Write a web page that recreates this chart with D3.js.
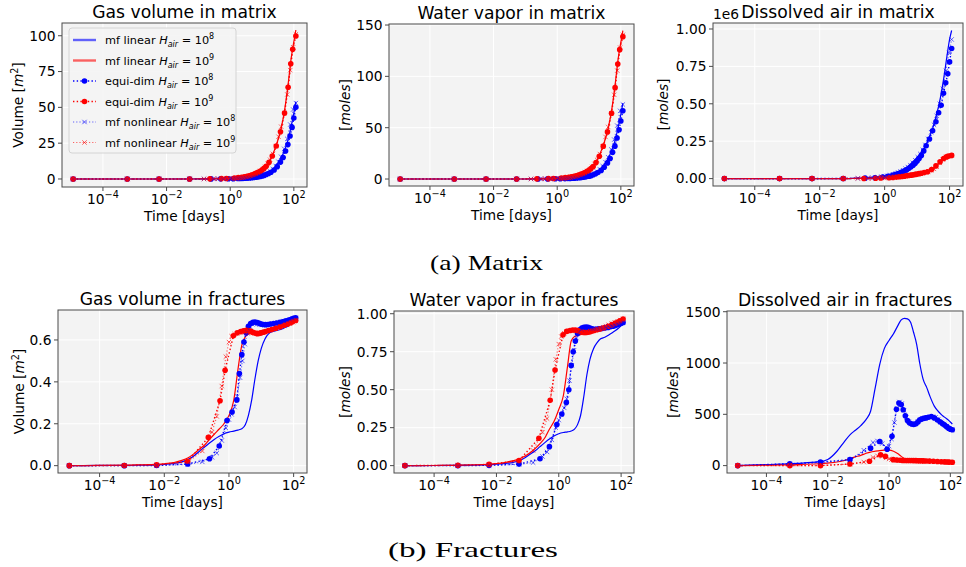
<!DOCTYPE html>
<html><head><meta charset="utf-8">
<script src="https://cdn.jsdelivr.net/npm/d3@7"></script>
<style>
body{margin:0;background:#fff}
svg{display:block}
text{font-family:"DejaVu Sans",sans-serif;fill:#000}
</style>
</head><body>
<svg id="c" width="966" height="567"></svg>
<script>
// ---------- time axes (days) ----------
const tLin = [1.157e-5,1e-4,1e-3,5e-3,0.01,0.02,0.035,0.055,0.08,0.12,0.18,0.25,0.35,0.5,0.7,1.0,1.4,1.9,2.5,3.2,4.0,5.0,6.3,8.0,10,13,17,22,30,40,52,66,82,100,115.7];
const tEqB = [1.157e-5,5.8e-4,5.8e-3,0.053,0.25,0.5,0.87,1.25,1.75,2.1,2.5,2.9,3.4,4.0,4.7,5.5,6.4,7.5,8.7,10,11.5,13.5,16,19,24,30,38,46,55,65,76,88,100,115.7];
const tEqR = [1.157e-5,5.8e-4,5.8e-3,0.053,0.23,0.53,0.76,1.37,1.8,2.3,2.8,3.4,4.0,4.7,5.5,6.4,7.5,8.7,10,11.5,13.5,16.6,21,28,38,51,66,80,92,115.7];
const tNl  = [1.157e-5,5.8e-4,5.8e-3,0.053,0.15,0.3,0.42,0.6,0.8,1.0,1.2,1.5,1.8,2.2,2.6,3.1,3.7,4.4,5.2,6.2,7.4,8.8,10.5,12.5,15,18,22,27,33,40,50,62,77,95,115.7];

// ---------- matrix: gas volume [m^2] ----------
const mGasLinB = [0,0,0,0,0,0,0,0,0.01,0.02,0.03,0.04,0.06,0.09,0.13,0.19,0.27,0.37,0.5,0.65,0.85,1.1,1.45,1.9,2.5,3.5,4.9,6.8,10.2,14.8,20.5,27.5,36.5,46,54];
const mGasLinR = [0,0,0,0,0,0,0,0,0,0.05,0.08,0.11,0.16,0.24,0.34,0.5,0.7,1.0,1.3,1.75,2.3,2.95,3.85,5.1,6.5,8.8,12.3,17.5,25.5,35.5,49,66,84,96,104];
const mGasEqB  = [0,0,0,0,0.04,0.08,0.14,0.21,0.3,0.37,0.44,0.52,0.62,0.74,0.88,1.05,1.25,1.5,1.8,2.1,2.5,3.1,3.8,4.7,6.3,8.6,11.8,15,19.5,24,30,36,42.5,50];
const mGasEqR  = [0,0,0,0.02,0.1,0.26,0.38,0.7,0.95,1.2,1.5,1.9,2.3,2.8,3.3,3.9,4.6,5.4,6.2,7.4,8.8,11.6,16,23,33,46,64,80.5,90.5,99.8];
const mGasNlB  = [0,0,0,0.01,0.03,0.05,0.07,0.1,0.14,0.18,0.22,0.28,0.34,0.42,0.5,0.6,0.74,0.9,1.08,1.33,1.65,2.05,2.55,3.2,4.1,5.2,6.9,9.1,12,15.5,21,28,38,48.5,53];
const mGasNlR  = [0,0,0,0.02,0.06,0.13,0.19,0.28,0.37,0.46,0.56,0.72,0.88,1.1,1.32,1.6,1.95,2.4,2.95,3.65,4.55,5.6,6.9,8.4,10.6,13.4,17.5,23,29.5,36.5,46,59,76,92,101];

// ---------- matrix: water vapor [moles] ----------
const mVapLinB = [0,0,0,0,0,0,0,0,0.01,0.03,0.04,0.05,0.08,0.12,0.18,0.26,0.37,0.51,0.69,0.89,1.16,1.5,2.0,2.6,3.4,4.8,6.7,9.3,14,20.3,28,37.7,50,63,74];
const mVapLinR = [0,0,0,0,0,0,0,0,0,0.07,0.11,0.15,0.22,0.33,0.47,0.7,0.97,1.4,1.8,2.4,3.2,4.1,5.4,7.1,9.0,12.2,17.1,24.3,35.4,49.3,68,91.7,116.8,133.4,144.5];
const mVapEqB  = [0,0,0,0,0.05,0.11,0.19,0.28,0.4,0.49,0.59,0.69,0.82,0.98,1.17,1.4,1.66,2.0,2.4,2.8,3.3,4.1,5.1,6.3,8.4,11.4,15.7,20,26,32,40,48,56.5,66.5];
const mVapEqR  = [0,0,0,0.03,0.14,0.36,0.53,0.97,1.32,1.67,2.1,2.64,3.2,3.9,4.6,5.4,6.4,7.5,8.6,10.3,12.2,16.1,22.2,32,45.9,64,89,112,126,138.7];
const mVapNlB  = [0,0,0,0.01,0.04,0.07,0.1,0.14,0.19,0.25,0.3,0.38,0.47,0.58,0.69,0.82,1.01,1.23,1.48,1.82,2.26,2.81,3.49,4.38,5.62,7.12,9.45,12.5,16.4,21.2,28.8,38.4,52,66.4,72.6];
const mVapNlR  = [0,0,0,0.03,0.08,0.18,0.26,0.39,0.51,0.64,0.78,1.0,1.22,1.53,1.83,2.22,2.71,3.34,4.1,5.07,6.32,7.78,9.6,11.7,14.7,18.6,24.3,32,41,50.7,64,82,105.6,128,140.4];

// ---------- matrix: dissolved air [moles] ----------
const mAirLinB = [0,0,0,0,0,0,0,0,0,2000,3000,4000,6000,8500,12000,17000,24000,32000,42000,53000,65000,80000,98000,120000,142000,172000,210000,260000,335000,430000,540000,670000,810000,930000,990000];
const mAirLinR = [0,0,0,0,0,0,0,0,0,1000,1000,2000,2000,3000,4000,5000,7000,9000,11000,14000,17000,20000,24000,28000,31000,36000,42000,50000,63000,90000,116000,135000,146000,152000,156000];
const mAirEqB  = [0,0,0,1000,3000,6000,11000,16000,22000,27000,32000,37000,43000,50000,58000,67000,77000,89000,102000,118000,135000,155000,185000,220000,265000,320000,380000,440000,490000,570000,640000,700000,780000,870000];
const mAirEqR  = [0,0,0,0,1000,2000,4000,6000,8000,10000,12000,14000,16000,19000,21000,23000,25000,28000,30000,33000,36000,40000,46000,60000,85000,112000,134000,145000,150000,155000];
const mAirNlB  = [0,0,0,1000,2000,4000,6000,9000,12000,15000,19000,24000,29000,35000,41000,48000,56000,66000,77000,90000,105000,123000,143000,165000,192000,225000,265000,310000,360000,420000,500000,600000,720000,840000,930000];
const mAirNlR  = [0,0,0,0,1000,1000,2000,3000,4000,5000,6000,7000,8000,10000,11000,13000,15000,18000,20000,23000,25000,28000,31000,34000,38000,43000,47000,55000,65000,80000,105000,128000,143000,151000,156000];

// ---------- fractures: gas volume [m^2] ----------
const fGasLinB = [0,0.001,0.002,0.004,0.006,0.011,0.018,0.03,0.045,0.068,0.09,0.108,0.125,0.14,0.152,0.16,0.165,0.17,0.176,0.195,0.24,0.31,0.41,0.5,0.56,0.605,0.63,0.64,0.645,0.65,0.658,0.666,0.675,0.683,0.69];
const fGasLinR = [0,0.001,0.003,0.006,0.009,0.015,0.025,0.038,0.055,0.078,0.1,0.125,0.15,0.175,0.2,0.24,0.31,0.46,0.575,0.615,0.628,0.634,0.638,0.641,0.644,0.647,0.651,0.655,0.659,0.664,0.668,0.673,0.678,0.684,0.69];
const fGasEqB  = [0,0,0.001,0.008,0.033,0.094,0.215,0.256,0.314,0.44,0.53,0.59,0.635,0.665,0.678,0.684,0.686,0.683,0.679,0.676,0.674,0.673,0.674,0.676,0.678,0.681,0.684,0.687,0.69,0.693,0.696,0.7,0.703,0.706];
const fGasEqR  = [0,0.001,0.004,0.02,0.135,0.31,0.455,0.62,0.634,0.64,0.644,0.646,0.645,0.642,0.637,0.633,0.63,0.631,0.634,0.637,0.64,0.645,0.65,0.656,0.663,0.67,0.676,0.682,0.687,0.693];
const fGasNlB  = [0,0,0.001,0.006,0.018,0.04,0.06,0.12,0.18,0.22,0.245,0.28,0.33,0.42,0.5,0.58,0.635,0.665,0.676,0.678,0.676,0.674,0.672,0.672,0.673,0.675,0.677,0.68,0.683,0.686,0.69,0.694,0.698,0.702,0.705];
const fGasNlR  = [0,0.001,0.004,0.018,0.07,0.16,0.235,0.38,0.52,0.59,0.618,0.628,0.632,0.636,0.638,0.638,0.636,0.634,0.632,0.631,0.632,0.634,0.636,0.639,0.642,0.646,0.65,0.654,0.658,0.662,0.667,0.672,0.678,0.685,0.691];

// ---------- fractures: water vapor [moles] ----------
const fVapLinB = [0,0.001,0.003,0.006,0.009,0.015,0.022,0.033,0.05,0.075,0.1,0.125,0.15,0.175,0.195,0.21,0.218,0.222,0.228,0.24,0.27,0.33,0.45,0.6,0.7,0.77,0.81,0.835,0.845,0.86,0.875,0.89,0.905,0.92,0.93];
const fVapLinR = [0,0.001,0.003,0.008,0.013,0.022,0.033,0.045,0.062,0.085,0.115,0.145,0.18,0.24,0.29,0.37,0.46,0.65,0.82,0.85,0.856,0.862,0.867,0.872,0.877,0.882,0.888,0.894,0.9,0.908,0.917,0.927,0.937,0.948,0.96];
const fVapEqB  = [0,0,0.002,0.01,0.045,0.125,0.27,0.34,0.415,0.5,0.66,0.75,0.82,0.87,0.895,0.905,0.91,0.912,0.91,0.905,0.9,0.898,0.898,0.9,0.903,0.906,0.91,0.914,0.918,0.922,0.927,0.932,0.937,0.942];
const fVapEqR  = [0,0.002,0.008,0.033,0.18,0.43,0.63,0.862,0.884,0.89,0.893,0.893,0.89,0.885,0.88,0.877,0.876,0.878,0.882,0.886,0.89,0.895,0.9,0.908,0.918,0.928,0.938,0.946,0.953,0.965];
const fVapNlB  = [0,0,0.002,0.008,0.02,0.06,0.09,0.17,0.25,0.3,0.335,0.38,0.44,0.56,0.66,0.76,0.84,0.88,0.897,0.905,0.907,0.905,0.902,0.9,0.9,0.902,0.905,0.908,0.912,0.916,0.921,0.927,0.933,0.939,0.944];
const fVapNlR  = [0,0.002,0.008,0.03,0.1,0.22,0.31,0.5,0.7,0.8,0.85,0.872,0.882,0.888,0.89,0.889,0.886,0.882,0.878,0.876,0.877,0.88,0.884,0.888,0.893,0.898,0.904,0.911,0.919,0.927,0.936,0.944,0.951,0.958,0.966];

// ---------- fractures: dissolved air [moles] ----------
const fAirLinB = [0,10,22,38,60,140,235,305,345,390,450,530,750,990,1140,1220,1285,1360,1420,1435,1430,1400,1300,1180,1000,840,760,670,580,530,495,470,450,425,405];
const fAirLinR = [0,5,10,18,25,35,50,70,85,100,120,132,140,147,150,150,140,118,90,70,58,52,48,45,43,42,40,39,37,36,35,34,33,32,31];
const fAirEqB  = [0,18,35,58,170,235,160,285,550,610,595,545,485,440,415,405,400,408,425,445,455,460,465,472,478,465,445,428,410,395,380,365,355,350];
const fAirEqR  = [0,0,0,16,42,105,90,58,54,52,51,50,50,50,50,49,49,48,48,47,46,45,44,42,40,38,36,35,34,33];
const fAirNlB  = [0,15,30,55,150,225,240,215,180,190,260,420,560,620,605,540,470,430,410,405,412,430,448,458,463,468,474,478,470,450,425,405,385,365,350];
const fAirNlR  = [0,0,0,14,35,80,95,90,75,65,58,54,52,51,50,50,50,49,49,48,48,47,46,45,44,43,42,41,40,38,37,36,35,34,33];

// ---------- labels ----------
const titles = ["Gas volume in matrix","Water vapor in matrix","Dissolved air in matrix",
                "Gas volume in fractures","Water vapor in fractures","Dissolved air in fractures"];
const xTickVals = [1e-4,1e-2,1,1e2];
const xTickExp  = ["\u22124","\u22122","0","2"];
const legendNames = ["mf linear","mf linear","equi-dim","equi-dim","mf nonlinear","mf nonlinear"];
const legendExp = ["8","9","8","9","8","9"];
const captions = ["(a) Matrix","(b) Fractures"];

// ---------- drawing ----------
const svg = d3.select("#c");
const BLUE = "#0000ff", RED = "#ff0000";
const FS_TICK = 13.8, FS_TITLE = 17.2, FS_LAB = 13.7;
const xDomain = [1.157e-5/Math.pow(10,0.35), 115.7*Math.pow(10,0.35)];

const panels = [
  {box:[62,23,307,187], yDom:[-5.6,108.9], yTicks:[0,25,50,75,100], yFmt:d3.format("d"), yLab:"vol", yLabX:18,
   s:[mGasLinB,mGasLinR,mGasEqB,mGasEqR,mGasNlB,mGasNlR], legend:true},
  {box:[389,24,634,186], yDom:[-6.8,151], yTicks:[0,50,100,150], yFmt:d3.format("d"), yLab:"mol", yLabX:345,
   s:[mVapLinB,mVapLinR,mVapEqB,mVapEqR,mVapNlB,mVapNlR]},
  {box:[713,23,963,186], yDom:[-49500,1040000], yTicks:[0,250000,500000,750000,1000000], yFmt:d=>d3.format(".2f")(d/1e6), yLab:"mol", yLabX:663,
   s:[mAirLinB,mAirLinR,mAirEqB,mAirEqR,mAirNlB,mAirNlR], offset:"1e6"},
  {box:[58,310,307,473], yDom:[-0.035,0.743], yTicks:[0,0.2,0.4,0.6], yFmt:d3.format(".1f"), yLab:"vol", yLabX:19,
   s:[fGasLinB,fGasLinR,fGasEqB,fGasEqR,fGasNlB,fGasNlR]},
  {box:[394,311,634,473], yDom:[-0.0485,1.018], yTicks:[0,0.25,0.5,0.75,1.0], yFmt:d3.format(".2f"), yLab:"mol", yLabX:345,
   s:[fVapLinB,fVapLinR,fVapEqB,fVapEqR,fVapNlB,fVapNlR]},
  {box:[727,311,963,473], yDom:[-72,1507], yTicks:[0,500,1000,1500], yFmt:d3.format("d"), yLab:"mol", yLabX:673,
   s:[fAirLinB,fAirLinR,fAirEqB,fAirEqR,fAirNlB,fAirNlR]}
];

function yLabel(g, kind, x, y){
  const t = g.append("text").attr("transform",`translate(${x},${y}) rotate(-90)`)
    .attr("text-anchor","middle").attr("dy","0.35em").style("font-size",FS_LAB+"px");
  if(kind==="vol"){
    t.append("tspan").text("Volume [");
    t.append("tspan").attr("font-style","italic").text("m");
    t.append("tspan").attr("dy","-5").style("font-size","9.6px").text("2");
    t.append("tspan").attr("dy","5").text("]");
  } else {
    t.append("tspan").text("[");
    t.append("tspan").attr("font-style","italic").text("moles");
    t.append("tspan").text("]");
  }
}

function xMark(g, cx, cy, col, op){
  const d=2.2;
  g.append("path").attr("d",`M${cx-d},${cy-d}L${cx+d},${cy+d}M${cx-d},${cy+d}L${cx+d},${cy-d}`)
   .attr("stroke",col).attr("stroke-width",1).attr("opacity",op).attr("fill","none");
}

panels.forEach((p,i)=>{
  const [x0,y0,x1,y1] = p.box;
  const x = d3.scaleLog().domain(xDomain).range([x0,x1]);
  const y = d3.scaleLinear().domain(p.yDom).range([y1,y0]);
  const g = svg.append("g");
  g.append("rect").attr("x",x0).attr("y",y0).attr("width",x1-x0).attr("height",y1-y0).attr("fill","#f3f3f3");
  // grid
  xTickVals.forEach(v=>g.append("line").attr("x1",x(v)).attr("x2",x(v)).attr("y1",y0).attr("y2",y1)
     .attr("stroke","#ffffff").attr("stroke-width",1));
  p.yTicks.forEach(v=>g.append("line").attr("x1",x0).attr("x2",x1).attr("y1",y(v)).attr("y2",y(v))
     .attr("stroke","#ffffff").attr("stroke-width",1));

  const times = [tLin,tLin,tEqB,tEqR,tNl,tNl];
  const cols = [BLUE,RED,BLUE,RED,BLUE,RED];
  const pts = k => times[k].map((t,j)=>[x(t), y(p.s[k][j])]);
  // mf linear
  [0,1].forEach(k=>{
    g.append("path").attr("d", d3.line().curve(d3.curveMonotoneX)(pts(k)))
      .attr("fill","none").attr("stroke",cols[k]).attr("stroke-width",1.2);
  });
  // equi-dim
  [2,3].forEach(k=>{
    const P = pts(k);
    g.append("path").attr("d", d3.line()(P)).attr("fill","none").attr("stroke",cols[k])
      .attr("stroke-width",1.4).attr("stroke-dasharray","1.4,2.3");
    g.selectAll(null).data(P).join("circle").attr("cx",d=>d[0]).attr("cy",d=>d[1]).attr("r",2.8).attr("fill",cols[k]);
  });
  // mf nonlinear
  [4,5].forEach(k=>{
    const P = pts(k);
    g.append("path").attr("d", d3.line()(P)).attr("fill","none").attr("stroke",cols[k])
      .attr("stroke-width",1.2).attr("stroke-dasharray","1.2,2").attr("opacity",0.6);
    P.forEach(d=>xMark(g,d[0],d[1],cols[k],0.6));
  });

  // frame
  g.append("rect").attr("x",x0).attr("y",y0).attr("width",x1-x0).attr("height",y1-y0)
    .attr("fill","none").attr("stroke","#4a4a4a").attr("stroke-width",1);
  // x ticks
  xTickVals.forEach((v,j)=>{
    const xx = x(v);
    g.append("line").attr("x1",xx).attr("x2",xx).attr("y1",y1).attr("y2",y1+4).attr("stroke","#4a4a4a");
    const t = g.append("text").attr("x",xx).attr("y",y1+17).attr("text-anchor","middle").style("font-size",FS_TICK+"px");
    t.append("tspan").text("10");
    t.append("tspan").attr("dy","-6").style("font-size","9.7px").text(xTickExp[j]);
  });
  // y ticks
  p.yTicks.forEach(v=>{
    const yy = y(v);
    g.append("line").attr("x1",x0-4).attr("x2",x0).attr("y1",yy).attr("y2",yy).attr("stroke","#4a4a4a");
    g.append("text").attr("x",x0-6.5).attr("y",yy).attr("dy","0.35em").attr("text-anchor","end")
      .style("font-size",FS_TICK+"px").text(p.yFmt(v));
  });
  // title
  g.append("text").attr("x",(x0+x1)/2).attr("y",y0-5).attr("text-anchor","middle")
    .style("font-size",FS_TITLE+"px").text(titles[i]);
  // x label
  g.append("text").attr("x",(x0+x1)/2).attr("y",y1+33.5).attr("text-anchor","middle")
    .style("font-size",FS_LAB+"px").text("Time [days]");
  yLabel(g, p.yLab, p.yLabX, (y0+y1)/2);
  if(p.offset){
    g.append("text").attr("x",x0).attr("y",y0-4).style("font-size",FS_TICK+"px").text(p.offset);
  }
  if(p.legend){
    const L = g.append("g");
    L.append("rect").attr("x",69).attr("y",28).attr("width",167).attr("height",125).attr("rx",3)
      .attr("fill","#f4f4f4").attr("fill-opacity",0.9).attr("stroke","#d4d4d4");
    legendNames.forEach((nm,k)=>{
      const cy = 40 + k*20.5, c = cols[k];
      if(k<2){
        L.append("line").attr("x1",73).attr("x2",96).attr("y1",cy).attr("y2",cy)
          .attr("stroke",c).attr("stroke-width",2.4).attr("opacity",0.6);
      } else if(k<4){
        L.append("line").attr("x1",73).attr("x2",96).attr("y1",cy).attr("y2",cy)
          .attr("stroke",c).attr("stroke-width",1.4).attr("stroke-dasharray","1.4,2.3");
        L.append("circle").attr("cx",84.5).attr("cy",cy).attr("r",2.8).attr("fill",c);
      } else {
        L.append("line").attr("x1",73).attr("x2",96).attr("y1",cy).attr("y2",cy)
          .attr("stroke",c).attr("stroke-width",1.2).attr("stroke-dasharray","1.2,2").attr("opacity",0.6);
        xMark(L,84.5,cy,c,0.6);
      }
      const t = L.append("text").attr("x",105).attr("y",cy+4).style("font-size","11.3px");
      t.append("tspan").text(nm+" ");
      t.append("tspan").attr("font-style","italic").text("H");
      t.append("tspan").attr("font-style","italic").attr("dy","3").style("font-size","8px").text("air");
      t.append("tspan").attr("dy","-3").text(" = 10");
      t.append("tspan").attr("dy","-5").style("font-size","8px").text(legendExp[k]);
    });
  }
});

// captions
svg.append("text").attr("x",486.5).attr("y",270).attr("text-anchor","middle")
  .attr("textLength",113).attr("lengthAdjust","spacingAndGlyphs")
  .style("font-family","'Liberation Serif',serif").style("font-size","21px").text(captions[0]);
svg.append("text").attr("x",473).attr("y",557).attr("text-anchor","middle")
  .attr("textLength",170).attr("lengthAdjust","spacingAndGlyphs")
  .style("font-family","'Liberation Serif',serif").style("font-size","21px").text(captions[1]);
</script>
</body></html>
